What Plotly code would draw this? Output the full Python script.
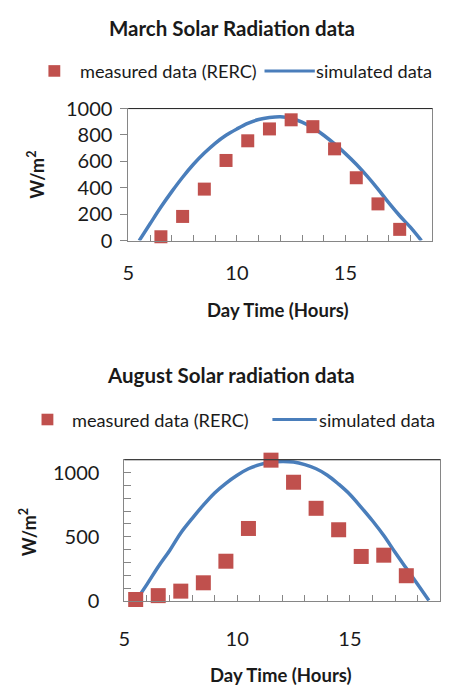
import plotly.graph_objects as go

W, H = 451, 697

# ---------------- data ----------------
march_meas_x = [6.5, 7.5, 8.5, 9.5, 10.5, 11.5, 12.5, 13.5, 14.5, 15.5, 16.5, 17.5]
march_meas_y = [29, 183, 390, 607, 756, 846, 915, 863, 695, 476, 278, 85]

march_sim_x = [5.5, 6.0, 6.5, 7.0, 7.5, 8.0, 8.5, 9.0, 9.5, 10.0, 10.5, 11.0, 11.5, 12.0,
               12.5, 13.0, 13.5, 14.0, 14.5, 15.0, 15.5, 16.0, 16.5, 17.0, 17.5, 18.0, 18.5]
march_sim_y = [0, 127, 254, 371, 480, 578, 663, 737, 798, 846, 888, 917, 932, 938,
               927, 897, 854, 798, 732, 659, 578, 488, 390, 285, 188, 100, 0]

aug_meas_x = [5.5, 6.5, 7.5, 8.5, 9.5, 10.5, 11.5, 12.5, 13.5, 14.5, 15.5, 16.5, 17.5]
aug_meas_y = [12, 42, 77, 142, 310, 565, 1097, 925, 722, 555, 347, 357, 197]

aug_sim_x = [5.5, 6.0, 6.5, 7.0, 7.5, 8.0, 8.5, 9.0, 9.5, 10.0, 10.5, 11.0, 11.5, 12.0,
             12.5, 13.0, 13.5, 14.0, 14.5, 15.0, 15.5, 16.0, 16.5, 17.0, 17.5, 18.0, 18.5]
aug_sim_y = [0, 130, 267, 392, 530, 642, 747, 842, 917, 980, 1030, 1062, 1080, 1087,
             1082, 1062, 1030, 980, 910, 830, 730, 625, 510, 380, 255, 130, 5]

titles = ["March Solar Radiation data", "August Solar radiation data"]
legend_labels = ["measured data (RERC)", "simulated data"]
x_title = "Day Time (Hours)"
y_title = "W/m<sup>2</sup>"
x_tick_vals = [5, 10, 15]

# ---------------- style ----------------
RED = "#C0504D"
BLUE = "#4A7EBB"
GRAY = "#868686"
TXT = "#1a1a1a"
FONT = "Lato"


def px(x):
    return x / W


def py(y):
    return 1 - y / H


fig = go.Figure()

fig.add_trace(go.Scatter(x=march_sim_x, y=march_sim_y, mode="lines", line=dict(color=BLUE, width=3.5, shape="spline"),
                         xaxis="x", yaxis="y", cliponaxis=False, showlegend=False))
fig.add_trace(go.Scatter(x=march_meas_x, y=march_meas_y, mode="markers",
                         marker=dict(symbol="square", size=13, color=RED, line=dict(width=0)),
                         xaxis="x", yaxis="y", cliponaxis=False, showlegend=False))
fig.add_trace(go.Scatter(x=aug_sim_x, y=aug_sim_y, mode="lines", line=dict(color=BLUE, width=3.5, shape="spline"),
                         xaxis="x2", yaxis="y2", cliponaxis=False, showlegend=False))
fig.add_trace(go.Scatter(x=aug_meas_x, y=aug_meas_y, mode="markers",
                         marker=dict(symbol="square", size=15, color=RED, line=dict(width=0)),
                         xaxis="x2", yaxis="y2", cliponaxis=False, showlegend=False))

tickfont = dict(family=FONT, size=20, color=TXT)

fig.update_layout(
    width=W, height=H, margin=dict(l=0, r=0, t=0, b=0),
    paper_bgcolor="white", plot_bgcolor="white", showlegend=False,
    xaxis=dict(domain=[px(124), px(432)], anchor="y", range=[5, 19],
               tickvals=x_tick_vals, ticks="inside", ticklen=6, tickcolor=GRAY,
               minor=dict(dtick=1, tick0=5, ticks="inside", ticklen=6, tickcolor=GRAY, showgrid=False),
               showgrid=False, zeroline=False, showline=True, linecolor=GRAY, linewidth=1, mirror=True,
               tickfont=tickfont, ticklabelstandoff=14),
    yaxis=dict(domain=[py(235.7), py(99)], anchor="x", range=[0, 1000],
               dtick=200, ticks="outside", ticklen=7, tickcolor=GRAY,
               showgrid=False, zeroline=False, showline=True, linecolor=GRAY, linewidth=1, mirror=True,
               tickfont=tickfont, ticklabelstandoff=4),
    xaxis2=dict(domain=[px(120), px(440)], anchor="y2", range=[5, 19],
                tickvals=x_tick_vals, ticks="inside", ticklen=6, tickcolor=GRAY,
                minor=dict(dtick=1, tick0=5, ticks="inside", ticklen=6, tickcolor=GRAY, showgrid=False),
                showgrid=False, zeroline=False, showline=True, linecolor=GRAY, linewidth=1, mirror=True,
                tickfont=tickfont, ticklabelstandoff=20),
    yaxis2=dict(domain=[py(609), py(462.7)], anchor="x2", range=[0, 1100],
                tickvals=[0, 500, 1000], ticks="inside", ticklen=7, tickcolor=GRAY,
                minor=dict(dtick=100, tick0=0, ticks="inside", ticklen=7, tickcolor=GRAY, showgrid=False),
                showgrid=False, zeroline=False, showline=True, linecolor=GRAY, linewidth=1, mirror=True,
                tickfont=tickfont, ticklabelstandoff=20),
)

# dark top border of each plot area
for xr, yr in [("x domain", "y domain"), ("x2 domain", "y2 domain")]:
    fig.add_shape(type="line", xref=xr, yref=yr, x0=0, x1=1, y0=1, y1=1,
                  line=dict(color="#262626", width=1))

ann = []
# chart titles
ann.append(dict(text="<b>%s</b>" % titles[0], x=px(229), y=py(16), font=dict(family=FONT, size=20.5, color=TXT)))
ann.append(dict(text="<b>%s</b>" % titles[1], x=px(228), y=py(375), font=dict(family=FONT, size=20.5, color=TXT)))
# axis titles
for cx, cy in [(276, 308), (279, 686)]:
    ann.append(dict(text="<b>%s</b>" % x_title, x=px(cx), y=py(cy), font=dict(family=FONT, size=18.5, color=TXT)))
for cx, cy in [(31, 168), (23, 538)]:
    ann.append(dict(text="<b>%s</b>" % y_title, x=px(cx), y=py(cy), textangle=-90,
                    font=dict(family=FONT, size=18, color=TXT)))

# legends
legends = [
    dict(y=60, mk=49, mks=12, t1=76, l0=262, l1=313, t2=315),
    dict(y=421, mk=42, mks=12, t1=68, l0=270, l1=315, t2=318),
]
for lg in legends:
    ann.append(dict(text=legend_labels[0], x=px(lg["t1"] - 3), y=py(lg["y"]), xanchor="left",
                    font=dict(family=FONT, size=18.2, color=TXT)))
    ann.append(dict(text=legend_labels[1], x=px(lg["t2"] - 3), y=py(lg["y"]), xanchor="left",
                    font=dict(family=FONT, size=18.2, color=TXT)))
    h = lg["mks"] / 2
    fig.add_shape(type="rect", xref="paper", yref="paper",
                  x0=px(lg["mk"] - h), x1=px(lg["mk"] + h), y0=py(lg["y"] + h), y1=py(lg["y"] - h),
                  fillcolor=RED, line=dict(width=0))
    fig.add_shape(type="line", xref="paper", yref="paper",
                  x0=px(lg["l0"]), x1=px(lg["l1"]), y0=py(lg["y"]), y1=py(lg["y"]),
                  line=dict(color=BLUE, width=3))

for a in ann:
    a.setdefault("xanchor", "center")
    a.setdefault("yanchor", "middle")
    a.update(xref="paper", yref="paper", showarrow=False)
fig.update_layout(annotations=ann)

fig.write_html("out.html")
